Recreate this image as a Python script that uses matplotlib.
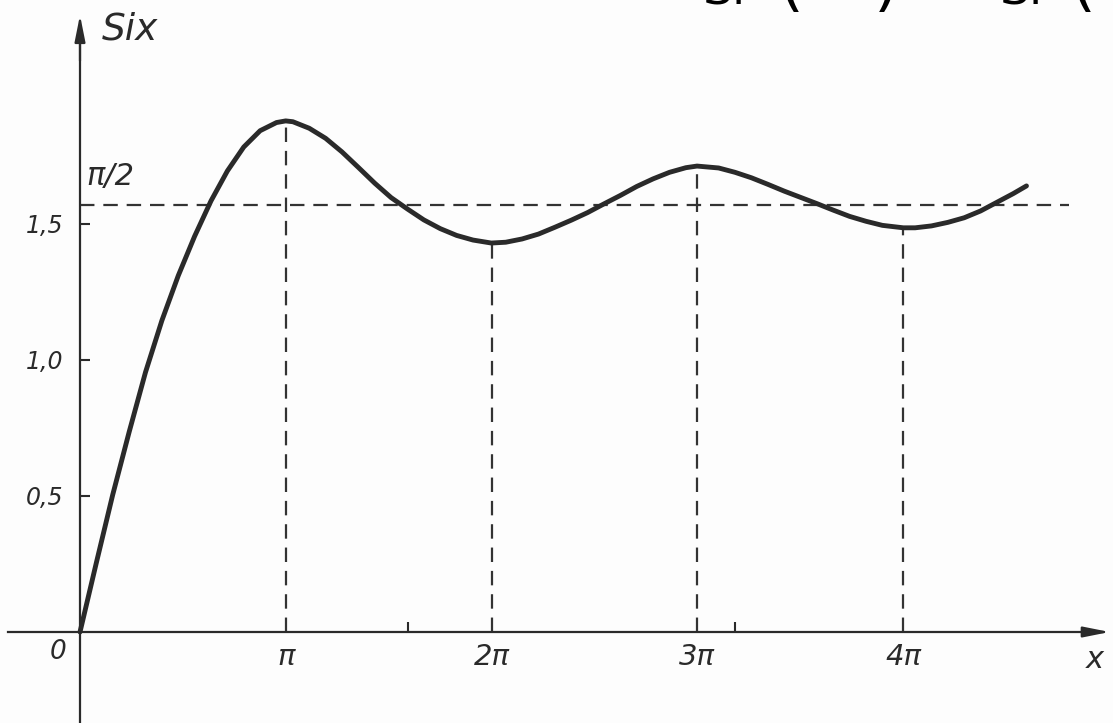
import numpy as np
import matplotlib.pyplot as plt

# curve (x in radians, y = Si x)
xs = [0, 0.25, 0.5, 0.75, 1.0, 1.25, 1.5, 1.75, 2.0, 2.25, 2.5, 2.75, 3.0, 3.14,
      3.25, 3.5, 3.75, 4.0, 4.25, 4.5, 4.75, 5.0, 5.25, 5.5, 5.75, 6.0, 6.28,
      6.5, 6.75, 7.0, 7.25, 7.5, 7.75, 8.0, 8.25, 8.5, 8.75, 9.0, 9.25, 9.42,
      9.75, 10.0, 10.25, 10.5, 10.75, 11.0, 11.25, 11.5, 11.75, 12.0, 12.25,
      12.57, 12.75, 13.0, 13.25, 13.5, 13.75, 14.0, 14.25, 14.45]
si = [0, 0.255, 0.505, 0.735, 0.955, 1.145, 1.31, 1.455, 1.585, 1.695, 1.783,
      1.843, 1.873, 1.879, 1.876, 1.852, 1.815, 1.765, 1.708, 1.650, 1.597,
      1.555, 1.515, 1.483, 1.458, 1.441, 1.430, 1.433, 1.445, 1.463, 1.488,
      1.514, 1.542, 1.574, 1.605, 1.638, 1.666, 1.690, 1.707, 1.713, 1.706,
      1.690, 1.670, 1.646, 1.621, 1.598, 1.575, 1.551, 1.528, 1.510, 1.495,
      1.486, 1.486, 1.493, 1.506, 1.523, 1.548, 1.580, 1.612, 1.640]

# extremes at multiples of pi
ext_x = [np.pi, 2 * np.pi, 3 * np.pi, 4 * np.pi]
ext_y = [1.879, 1.430, 1.713, 1.486]
ext_labels = ['π', '2π', '3π', '4π']

y_ticks = [0.5, 1.0, 1.5]
y_labels = ['0,5', '1,0', '1,5']
x_minor = [5, 10]
half_pi = np.pi / 2

ink = '#2a2a2a'
FONT = 'DejaVu Sans'

fig = plt.figure(figsize=(11.13, 7.23), dpi=100)
fig.patch.set_facecolor('#fdfdfd')
ax = fig.add_axes([0, 0, 1, 1])
ax.set_facecolor('#fdfdfd')
ax.set_xlim(-80 / 65.5, 1033 / 65.5)
ax.set_ylim(-91 / 272, 632 / 272)

# axes through the origin
for side in ['top', 'right']:
    ax.spines[side].set_visible(False)
ax.spines['left'].set_position(('data', 0))
ax.spines['bottom'].set_position(('data', 0))
ax.spines['left'].set_bounds(-0.34, 2.2)
ax.spines['bottom'].set_bounds(-1.1, 15.6)
for side in ['left', 'bottom']:
    ax.spines[side].set_color(ink)
    ax.spines[side].set_linewidth(1.6)

arrow = dict(arrowstyle='-|>,head_length=0.8,head_width=0.16', color=ink,
             lw=1.6, shrinkA=0, shrinkB=0, mutation_scale=20)
ax.annotate('', xy=(0, 2.268), xytext=(0, 2.1), arrowprops=arrow)
ax.annotate('', xy=(15.72, 0), xytext=(15.4, 0), arrowprops=arrow)

ax.set_yticks(y_ticks)
ax.set_yticklabels(y_labels, fontstyle='italic', fontsize=17, family=FONT,
                   color=ink)
ax.tick_params(axis='y', direction='in', length=7, width=1.5, color=ink,
               pad=12)
ax.set_xticks(ext_x)
ax.set_xticklabels(ext_labels, fontstyle='italic', fontsize=21, family=FONT,
                   color=ink)
ax.set_xticks(x_minor, minor=True)
ax.tick_params(axis='x', which='major', length=0, pad=8)
ax.tick_params(axis='x', which='minor', direction='in', length=7, width=1.5,
               color=ink)

# dashed guides
dash = dict(color='#333333', lw=1.6, linestyles=(0, (6.5, 4)))
ax.hlines(half_pi, 0, 15.1, **dash)
ax.vlines(ext_x, 0, ext_y, **dash)

# the curve
ax.plot(xs, si, color=ink, lw=3.5, solid_joinstyle='round',
        solid_capstyle='round')

# labels
ax.text(0.33, 2.215, 'Six', fontsize=27, fontstyle='italic', family=FONT,
        color=ink, ha='left', va='center')
ax.text(0.1, half_pi + 0.05, 'π/2', fontsize=22, fontstyle='italic',
        family=FONT, color=ink, ha='left', va='bottom')
ax.text(-0.33, -0.075, '0', fontsize=19, fontstyle='italic', family=FONT,
        color=ink, ha='center', va='center')
ax.text(15.5, -0.1, 'x', fontsize=22, fontstyle='italic', family=FONT,
        color=ink, ha='center', va='center')

# clipped formula from the page above
for txt, px, size in [('Si', 703, 34), ('(', 778, 46), (')', 874, 46),
                      ('Si', 1000, 34), ('(', 1070, 46)]:
    fig.text(px / 1113, 1 - 4 / 723, txt, fontsize=size, family=FONT,
             color='black', ha='left', va='baseline')

fig.savefig('out.png', dpi=100, facecolor=fig.get_facecolor())
